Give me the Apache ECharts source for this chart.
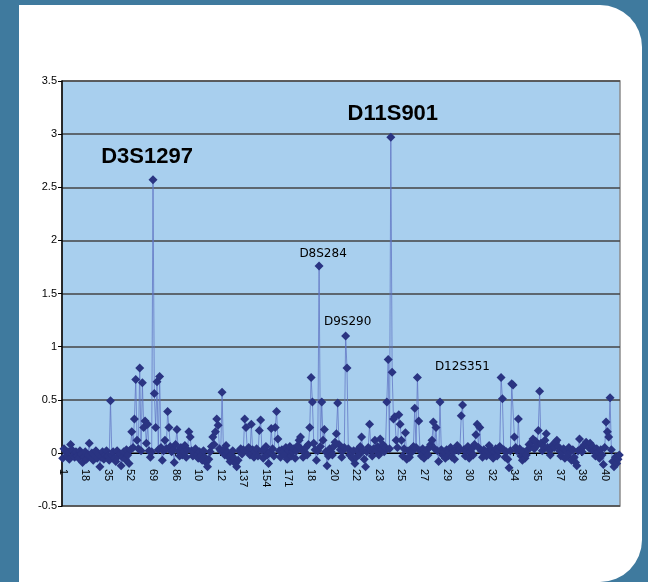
<!DOCTYPE html>
<html>
<head>
<meta charset="utf-8">
<script src="https://cdn.jsdelivr.net/npm/echarts@6/dist/echarts.min.js"></script>
<style>
  html, body { margin: 0; padding: 0; background: #3f7a9e; }
  #chart { width: 648px; height: 582px; }
</style>
</head>
<body>
<div id="chart"></div>
<script>
// LOD score per marker (420 markers)
var scores = [
  -0.05, 0.04, 0.02, -0.03, 0.01, -0.06, 0.08, 0.03, -0.02, -0.04, 0.01, -0.03, -0.05, 0.02, -0.01, -0.09, -0.04, 0.01, -0.06, -0.02,
  0.09, -0.03, 0.00, -0.07, -0.02, 0.02, -0.05, -0.01, -0.13, -0.04, 0.01, -0.06, -0.02, 0.02, -0.03, -0.07, 0.49, -0.02, 0.01, -0.05,
  -0.08, 0.02, -0.03, -0.01, -0.12, -0.04, 0.01, -0.06, 0.03, -0.02, -0.10, 0.03, 0.20, 0.05, 0.32, 0.69, 0.12, 0.04, 0.80, 0.02,
  0.66, 0.24, 0.30, 0.09, 0.27, 0.02, -0.04, 0.01, 2.57, 0.56, 0.24, 0.67, 0.03, 0.72, 0.05, -0.07, 0.02, 0.12, 0.04, 0.39,
  0.24, 0.06, 0.01, 0.03, -0.09, 0.08, 0.22, 0.02, -0.03, 0.05, -0.02, 0.01, 0.07, -0.04, 0.03, 0.20, 0.15, 0.02, -0.03, 0.01,
  0.04, -0.02, -0.05, 0.01, -0.03, -0.07, 0.02, -0.04, -0.09, -0.13, -0.06, 0.01, 0.06, 0.15, 0.08, 0.20, 0.32, 0.26, 0.04, 0.02,
  0.57, 0.03, -0.02, 0.07, 0.01, -0.04, -0.08, -0.02, 0.02, -0.05, -0.10, -0.13, -0.07, 0.02, 0.04, -0.01, 0.03, 0.32, 0.24, 0.02,
  0.05, -0.02, 0.27, 0.03, -0.04, 0.01, 0.04, -0.03, 0.21, 0.31, 0.02, -0.05, 0.03, 0.06, -0.02, -0.10, 0.01, 0.23, 0.04, -0.03,
  0.24, 0.39, 0.13, 0.02, -0.04, 0.03, 0.01, -0.02, 0.05, -0.06, 0.02, 0.06, -0.03, 0.01, 0.04, -0.05, 0.02, 0.07, 0.12, 0.15,
  0.03, -0.04, 0.01, 0.05, -0.02, 0.08, 0.24, 0.71, 0.48, 0.09, 0.03, -0.07, 0.02, 1.76, 0.06, 0.48, 0.12, 0.22, 0.01, -0.12,
  -0.03, 0.04, 0.01, -0.02, 0.06, 0.10, 0.18, 0.47, 0.08, 0.03, -0.04, 0.02, 0.05, 1.10, 0.80, 0.04, -0.02, 0.01, -0.05, 0.02,
  -0.10, -0.04, 0.03, -0.02, 0.06, 0.15, 0.02, -0.06, -0.13, 0.01, 0.05, 0.27, 0.03, -0.03, 0.04, 0.12, 0.02, 0.06, -0.02, 0.13,
  0.03, 0.08, 0.01, 0.05, 0.48, 0.88, 0.04, 2.97, 0.76, 0.32, 0.34, 0.12, 0.05, 0.36, 0.27, 0.12, -0.03, 0.04, 0.19, -0.06,
  0.02, -0.04, 0.03, 0.01, 0.06, 0.42, 0.05, 0.71, 0.30, 0.02, -0.03, 0.04, -0.05, 0.01, 0.03, -0.02, 0.05, 0.08, 0.12, 0.29,
  0.04, 0.24, 0.02, -0.08, 0.48, 0.03, -0.02, 0.01, -0.05, 0.03, -0.03, 0.02, 0.05, -0.04, 0.01, -0.06, 0.03, 0.07, 0.02, 0.04,
  0.35, 0.45, 0.03, -0.03, 0.02, 0.06, -0.05, 0.01, 0.04, -0.02, 0.08, 0.17, 0.27, 0.05, 0.24, 0.02, -0.04, 0.03, 0.01, -0.03,
  0.02, 0.07, -0.02, 0.03, -0.05, 0.01, 0.04, -0.03, 0.02, 0.06, 0.71, 0.51, 0.03, -0.04, 0.01, -0.06, -0.14, 0.02, 0.65, 0.64,
  0.15, 0.05, 0.02, 0.32, 0.04, -0.03, -0.07, 0.01, -0.05, -0.02, 0.03, 0.08, 0.05, 0.10, 0.13, 0.04, 0.11, 0.07, 0.21, 0.58,
  0.09, 0.02, 0.06, 0.12, 0.18, 0.05, 0.03, -0.02, 0.04, 0.08, 0.05, 0.10, 0.12, 0.06, 0.02, -0.03, 0.01, 0.04, -0.05, 0.02,
  -0.03, 0.05, 0.01, -0.07, 0.03, -0.04, -0.09, -0.12, 0.02, 0.13, 0.04, 0.01, 0.06, 0.08, 0.10, 0.07, 0.05, 0.09, 0.03, 0.06,
  0.02, -0.03, 0.04, 0.01, -0.05, 0.03, -0.02, -0.11, 0.05, 0.29, 0.20, 0.15, 0.52, 0.03, -0.08, -0.13, -0.04, -0.10, -0.06, -0.02
];

// tick labels as they show (cut off in the original)
var tickLabels = ['1', '18', '35', '52', '69', '86', '10', '12', '137', '154', '171', '18', '20',
  '22', '23', '25', '27', '29', '30', '32', '34', '35', '37', '39', '40'];

// named peaks: marker index, label, big?
var peakNames = ['D3S1297', 'D11S901', 'D8S284', 'D9S290', 'D12S351'];
var peakIndex = [68, 247, 193, 213, 267];
var peakBig = [true, true, false, false, false];

var markers = [];
for (var i = 0; i < scores.length; i++) markers.push(String(i + 1));

var peakOffsets = [[-6, -23], [2, -23], [4, -12], [2, -14], [45, -11]];
var markData = peakNames.map(function (name, k) {
  return {
    coord: [peakIndex[k], scores[peakIndex[k]]],
    label: {
      formatter: name,
      offset: peakOffsets[k],
      fontSize: peakBig[k] ? 22 : 12,
      fontWeight: peakBig[k] ? 'bold' : 'normal',
      fontFamily: peakBig[k] ? 'Liberation Sans' : 'DejaVu Sans'
    }
  };
});

// plot is 425px tall for 4 units -> zero sits 53px above the bottom
var zeroLift = -53;

var myChart = echarts.init(document.getElementById('chart'));
var option = {
  animation: false,
  backgroundColor: '#3f7a9e',
  graphic: [{
    type: 'rect',
    z: -10,
    shape: { x: 19, y: 5, width: 623, height: 577, r: [0, 42, 42, 0] },
    style: { fill: '#ffffff' }
  }],
  grid: {
    left: 62, right: 28, top: 81, bottom: 76,
    show: true,
    backgroundColor: '#a8cfee',
    borderColor: '#8c8c8c',
    borderWidth: 1.5
  },
  xAxis: {
    type: 'category',
    data: markers,
    boundaryGap: true,
    offset: zeroLift,
    axisLine: { onZero: false, lineStyle: { color: '#000', width: 1 } },
    axisTick: { show: true, interval: 16, length: 3, lineStyle: { color: '#000' } },
    axisLabel: {
      interval: 16,
      rotate: -90,
      margin: 16,
      fontSize: 11,
      fontFamily: 'Liberation Sans',
      color: '#000',
      formatter: function (value, index) {
        return tickLabels[Math.round(index / 17)];
      }
    },
    splitLine: { show: false }
  },
  yAxis: {
    type: 'value',
    min: -0.5,
    max: 3.5,
    interval: 0.5,
    axisLine: { show: true, lineStyle: { color: '#000', width: 1.5 } },
    axisTick: { show: true, length: 4, lineStyle: { color: '#000' } },
    axisLabel: { fontSize: 11, fontFamily: 'Liberation Sans', color: '#000', margin: 5 },
    splitLine: { lineStyle: { color: '#454545', width: 1.5 } }
  },
  series: [{
    name: 'LOD',
    type: 'line',
    data: scores,
    symbol: 'diamond',
    symbolSize: 9,
    showAllSymbol: true,
    itemStyle: { color: '#2a3482' },
    lineStyle: { color: 'rgba(95,115,195,0.75)', width: 1 },
    markPoint: {
      symbol: 'circle',
      symbolSize: 1,
      itemStyle: { color: 'rgba(0,0,0,0)' },
      label: { show: true, position: 'inside', color: '#000' },
      data: markData
    }
  }]
};
myChart.setOption(option);
</script>
</body>
</html>
